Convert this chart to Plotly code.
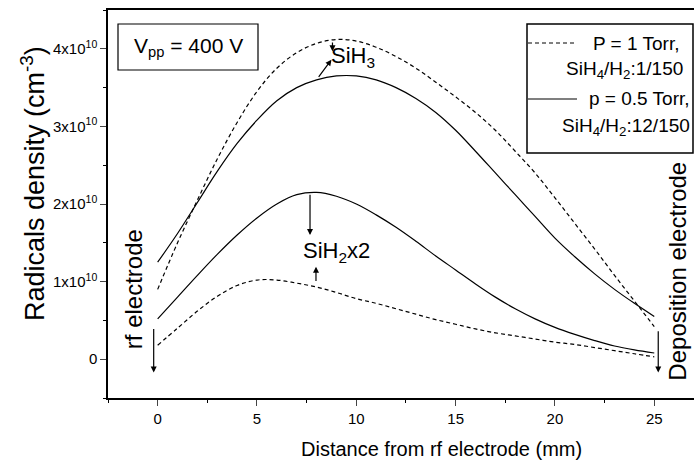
import plotly.graph_objects as go

# distance from rf electrode (mm)
distance_mm = [0, 1, 2, 3, 4, 5, 6, 7, 8, 9, 10, 11, 12, 13, 14, 15, 16, 17, 18, 19, 20, 21, 22, 23, 24, 25]

# radicals density in units of 1e10 cm^-3
sih3_p1torr = [0.90, 1.50, 2.05, 2.58, 3.05, 3.45, 3.75, 3.95, 4.07, 4.12, 4.10, 4.02, 3.90, 3.75, 3.57, 3.38,
               3.18, 2.95, 2.68, 2.40, 2.08, 1.75, 1.42, 1.08, 0.75, 0.42]
sih3_p05torr = [1.25, 1.62, 2.02, 2.42, 2.78, 3.08, 3.33, 3.50, 3.60, 3.65, 3.65, 3.60, 3.50, 3.36, 3.18, 2.95,
                2.68, 2.40, 2.12, 1.84, 1.56, 1.32, 1.10, 0.90, 0.72, 0.55]
sih2x2_p1torr = [0.18, 0.40, 0.62, 0.81, 0.95, 1.02, 1.02, 0.98, 0.93, 0.86, 0.78, 0.72, 0.65, 0.58, 0.51, 0.45,
                 0.39, 0.34, 0.30, 0.26, 0.22, 0.19, 0.15, 0.11, 0.07, 0.03]
sih2x2_p05torr = [0.52, 0.80, 1.08, 1.35, 1.60, 1.82, 2.00, 2.12, 2.15, 2.10, 2.00, 1.86, 1.70, 1.52, 1.33, 1.15,
                  0.97, 0.80, 0.65, 0.52, 0.41, 0.32, 0.24, 0.17, 0.12, 0.08]

x_tick_vals = [0, 5, 10, 15, 20, 25]
y_tick_vals = [0, 1, 2, 3, 4]
y_tick_text = ["0", "1x10<sup>10</sup>", "2x10<sup>10</sup>", "3x10<sup>10</sup>", "4x10<sup>10</sup>"]

FONT = "Liberation Sans, Arial, sans-serif"
DASH = "4px,3px"

L, T, PW, PH = 108, 10, 586, 388

def ptx(px):
    return (px - L) / PW

def pty(py):
    return (T + PH - py) / PH

fig = go.Figure()
for ys, dash in [(sih3_p1torr, DASH), (sih3_p05torr, "solid"),
                 (sih2x2_p1torr, DASH), (sih2x2_p05torr, "solid")]:
    fig.add_trace(go.Scatter(x=distance_mm, y=ys, mode="lines",
                             line=dict(color="black", width=1.2, dash=dash, shape="spline", smoothing=1.0),
                             showlegend=False, hoverinfo="skip"))

ann = []

def arrow(x, y, ax, ay, w=1.2, size=1.0):
    ann.append(dict(x=x, y=y, ax=ax, ay=ay, xref="x", yref="y", axref="x", ayref="y",
                    text="", showarrow=True, arrowhead=2, arrowsize=size, arrowwidth=w,
                    arrowcolor="black", standoff=0, startstandoff=0))

def label(x, y, text, size, xref="x", yref="y", angle=0, xanchor="center"):
    ann.append(dict(x=x, y=y, xref=xref, yref=yref, text=text, showarrow=False, textangle=angle,
                    xanchor=xanchor, yanchor="middle", font=dict(size=size, color="black", family=FONT)))

# curve labels and their pointers
label(8.65, 3.9, "SiH<sub>3</sub>", 22, xanchor="left")
label(9.0, 1.38, "SiH<sub>2</sub>x2", 22)
arrow(8.75, 3.86, 8.05, 3.62)
arrow(8.8, 3.97, 8.8, 4.10)
arrow(7.67, 1.6, 7.67, 2.14)
arrow(7.97, 1.19, 7.97, 0.99)

# electrodes
arrow(-0.2, -0.17, -0.2, 0.41)
arrow(25.2, -0.17, 25.2, 0.38)
label(-1.2, 0.9, "rf electrode", 24, angle=-90)
label(26.15, 1.13, "Deposition electrode", 24, angle=-90)

# Vpp box text
label(ptx(188), pty(47), "V<sub>pp</sub> = 400 V", 21, xref="paper", yref="paper")

# legend texts
legend_rows = [("P = 1 Torr,", 681, 43), ("SiH<sub>4</sub>/H<sub>2</sub>:1/150", 685, 70),
               ("p = 0.5 Torr,", 692, 99), ("SiH<sub>4</sub>/H<sub>2</sub>:12/150", 692, 127)]
for txt, rx, cy in legend_rows:
    label(ptx(rx), pty(cy), txt, 19, xref="paper", yref="paper", xanchor="right")

# axis titles
label(ptx(441), pty(449), "Distance from rf electrode (mm)", 20, xref="paper", yref="paper")
label(ptx(33), pty(184), "Radicals density (cm<sup>-3</sup>)", 27, xref="paper", yref="paper", angle=-90)

shapes = [
    dict(type="rect", xref="paper", yref="paper", x0=ptx(118), x1=ptx(258), y0=pty(70), y1=pty(24),
         line=dict(color="black", width=1.2)),
    dict(type="rect", xref="paper", yref="paper", x0=ptx(527), x1=ptx(693), y0=pty(153), y1=pty(24),
         line=dict(color="black", width=1.5)),
    dict(type="line", xref="paper", yref="paper", x0=ptx(528), x1=ptx(577), y0=pty(43), y1=pty(43),
         line=dict(color="black", width=1.0, dash=DASH)),
    dict(type="line", xref="paper", yref="paper", x0=ptx(528), x1=ptx(577), y0=pty(99), y1=pty(99),
         line=dict(color="black", width=1.2)),
]

fig.update_layout(
    width=694, height=465,
    margin=dict(l=L, r=694 - L - PW, t=T, b=465 - T - PH),
    paper_bgcolor="white", plot_bgcolor="white",
    font=dict(family=FONT, color="black", size=15),
    annotations=ann, shapes=shapes,
    xaxis=dict(range=[-2.5, 27], tickvals=x_tick_vals, ticks="outside", ticklen=6, tickwidth=1.2,
               showline=True, linecolor="black", linewidth=1.5, mirror=True, showgrid=False, zeroline=False,
               tickfont=dict(size=15, family=FONT, color="black"),
               minor=dict(dtick=2.5, tick0=0, ticks="outside", ticklen=3, tickcolor="black", tickwidth=1)),
    yaxis=dict(range=[-0.5, 4.5], tickvals=y_tick_vals, ticktext=y_tick_text, ticks="outside", ticklen=6,
               tickwidth=1.2, showline=True, linecolor="black", linewidth=1.5, showgrid=False, zeroline=False,
               tickfont=dict(size=15, family=FONT, color="black"),
               minor=dict(dtick=0.5, tick0=0, ticks="outside", ticklen=3, tickcolor="black", tickwidth=1)),
)

fig.write_html("out.html", config={"displayModeBar": False},
               post_script="document.body.style.margin='0';")
